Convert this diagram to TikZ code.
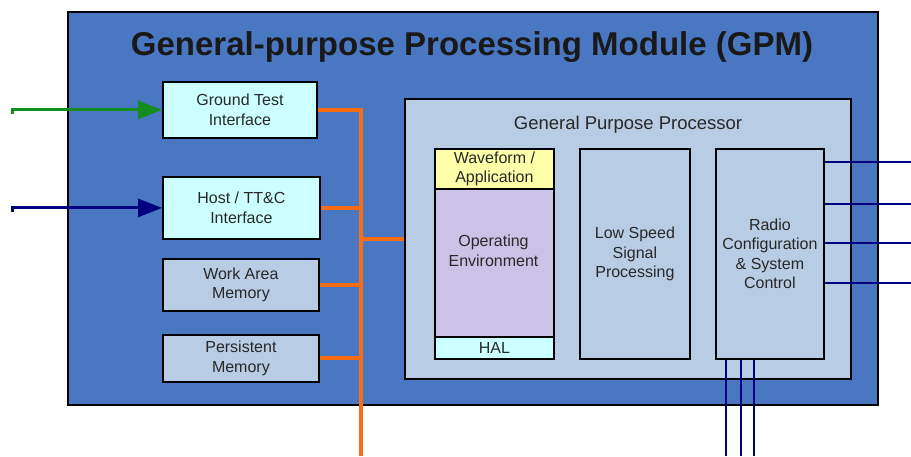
\documentclass[tikz,border=0pt]{standalone}
\usepackage{fontspec}
\setmainfont{Liberation Sans}
\usepackage{tikz}
\usetikzlibrary{positioning,calc,arrows.meta}

\definecolor{gpmblue}{RGB}{74,119,193}
\definecolor{gppfill}{RGB}{184,204,228}
\definecolor{cyanfill}{RGB}{204,255,255}
\definecolor{wfyellow}{RGB}{255,255,170}
\definecolor{oelav}{RGB}{204,194,230}
\definecolor{busorange}{RGB}{248,108,20}
\definecolor{gtgreen}{RGB}{20,140,30}
\definecolor{signavy}{RGB}{0,0,128}
\definecolor{txtgray}{RGB}{40,40,40}

\tikzset{
    blk/.style={draw, line width=1.8pt, inner sep=0pt, anchor=north west, align=center,
        text=txtgray, font=\fontsize{16}{19.5}\selectfont},
    bus/.style={busorange, line width=4pt},
    sig/.style={signavy, line width=2.2pt},
    inarrow/.style={line width=3pt, -{Triangle[length=24pt,width=18pt]}}
}

\begin{document}
\begin{tikzpicture}[x=1pt, y=-1pt]
    \fill[white] (0,0) rectangle (911,456);
    \useasboundingbox (0,0) rectangle (911,456);

    % module frame and title
    \node[blk, fill=gpmblue, minimum width=810pt, minimum height=393pt] (gpm) at (67,11) {};
    \node[anchor=base, text=black!90, font=\fontsize{33}{36}\selectfont\bfseries] (gpmtitle) at (472,55)
        {General-purpose Processing Module (GPM)};

    % interfaces and memories
    \node[blk, fill=cyanfill, minimum width=154pt, minimum height=56pt] (gti) at (162,81) {Ground Test\\Interface};
    \node[blk, fill=cyanfill, minimum width=157pt, minimum height=62pt] (host) at (162,176) {Host / TT\&C\\Interface};
    \node[blk, fill=gppfill, minimum width=156pt, minimum height=52pt] (wam) at (162,258) {Work Area\\Memory};
    \node[blk, fill=gppfill, minimum width=156pt, minimum height=47pt] (pmem) at (162,334) {Persistent\\Memory};

    % processor
    \node[blk, fill=gppfill, minimum width=446pt, minimum height=280pt] (gpp) at (404,98) {};
    \node[anchor=base, text=txtgray, font=\fontsize{18.5}{20}\selectfont] (gpptitle) at (628,129) {General Purpose Processor};

    \node[blk, fill=wfyellow, minimum width=119pt, minimum height=40pt] (wfa) at (434,148) {Waveform /\\Application};
    \node[blk, fill=oelav, minimum width=119pt, minimum height=148pt] (oe) at (434,188) {};
    \node[align=center, text=txtgray, font=\fontsize{16}{19.5}\selectfont] (oetext) at (493.5,251) {Operating\\Environment};
    \node[blk, fill=cyanfill, minimum width=119pt, minimum height=22pt] (hal) at (434,336) {HAL};
    \node[blk, fill=gppfill, minimum width=110pt, minimum height=210pt] (lssp) at (579,148) {Low Speed\\Signal\\Processing};
    \node[blk, fill=gppfill, minimum width=108pt, minimum height=210pt] (rcsc) at (715,148) {Radio\\Configuration\\\& System\\Control};

    % orange bus
    \coordinate (busbot) at (361,456);
    \draw[bus] (gti.east) -| (busbot);
    \draw[bus] (host.east) -- (host.east -| busbot);
    \draw[bus] (wam.east) -- (wam.east -| busbot);
    \draw[bus] (pmem.east) -- (pmem.east -| busbot);
    \draw[bus] (gpp.west -| busbot) -- (gpp.west);

    % inputs
    \coordinate (gtin) at (12,114);
    \coordinate (hostin) at (12,212);
    \draw[inarrow, gtgreen] (gtin) |- (gti.west);
    \draw[inarrow, signavy] (hostin) |- (host.west);

    % radio control lines
    \foreach \y [count=\i] in {162,204,243,283} {
        \coordinate (rout\i) at (911,\y);
        \draw[sig] (rcsc.east |- rout\i) -- (rout\i);
    }
    \foreach \x [count=\i] in {726,741,754} {
        \coordinate (dout\i) at (\x,456);
        \draw[sig] (rcsc.south -| dout\i) -- (dout\i);
    }
\end{tikzpicture}
\end{document}
